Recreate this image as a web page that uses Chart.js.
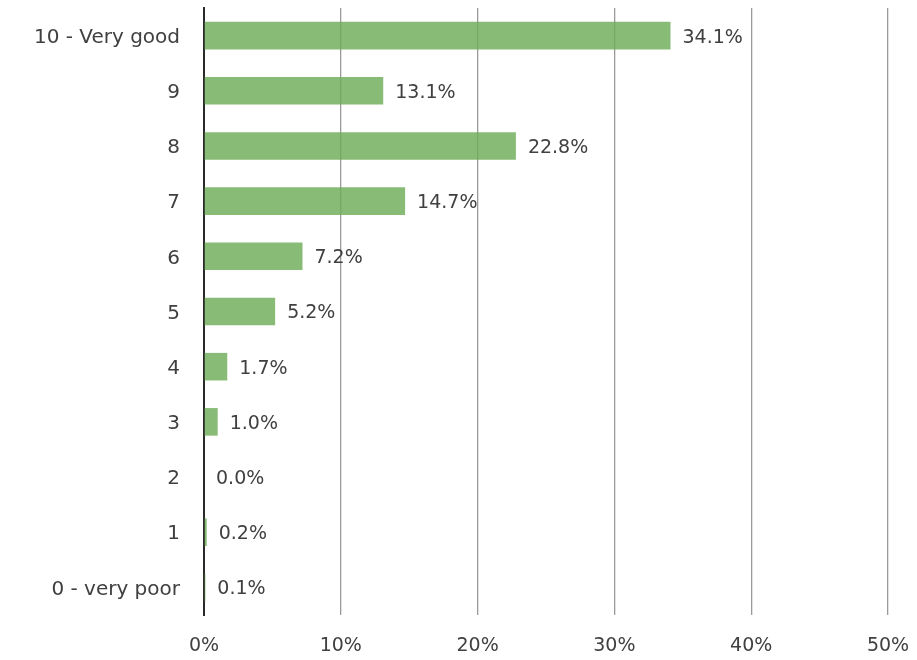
<!DOCTYPE html>
<html><head><meta charset="utf-8">
<script src="https://cdn.jsdelivr.net/npm/chart.js@4"></script>
<style>html,body{margin:0;padding:0;background:#fff;}#wrap{width:917px;height:660px;position:relative;}</style>
</head><body><div id="wrap"><canvas id="c" width="917" height="660"></canvas></div>
<script>
const categories = ["10 - Very good","9","8","7","6","5","4","3","2","1","0 - very poor"];
const values = [34.1,13.1,22.8,14.7,7.2,5.2,1.7,1.0,0.0,0.2,0.1];
const valueLabels = ["34.1%","13.1%","22.8%","14.7%","7.2%","5.2%","1.7%","1.0%","0.0%","0.2%","0.1%"];
const FONT = "'DejaVu Sans', sans-serif";
const labelPlugin = {
  id:'vlabels',
  afterDatasetsDraw(chart){
    const ctx = chart.ctx;
    const meta = chart.getDatasetMeta(0);
    ctx.save();
    ctx.font = "19px " + FONT;
    ctx.fillStyle = "#404040";
    ctx.textBaseline = "middle";
    ctx.textAlign = "left";
    meta.data.forEach((bar,i)=>{
      ctx.fillText(valueLabels[i], bar.x + 12, bar.y + 2);
    });
    ctx.restore();
  }
};
new Chart(document.getElementById('c'),{
  type:'bar',
  data:{labels:categories,datasets:[{data:values,backgroundColor:'rgba(110,172,88,0.82)',borderWidth:0,categoryPercentage:1,barPercentage:0.5}]},
  options:{
    indexAxis:'y',responsive:false,animation:false,
    layout:{padding:{top:8,right:29,left:0,bottom:0}},
    plugins:{legend:{display:false},tooltip:{enabled:false}},
    scales:{
      x:{min:0,max:50,
        ticks:{stepSize:10,callback:v=>v+'%',color:'#404040',font:{family:FONT,size:19},padding:20},
        grid:{color:(c)=>c.index===0?'rgba(0,0,0,0)':'#9a9a9a',lineWidth:1.3,drawTicks:false},
        border:{display:false},
        afterFit(s){s.height=45;s.paddingLeft=0;s.paddingRight=0;}
      },
      y:{
        ticks:{color:'#404040',font:{family:FONT,size:20},padding:24,labelOffset:2},
        grid:{display:false,drawTicks:false},
        border:{display:true,color:'#2a2a2a',width:2},
        afterFit(s){s.width=204;s.paddingTop=0;s.paddingBottom=0;}
      }
    }
  },
  plugins:[labelPlugin]
});
</script></body></html>
